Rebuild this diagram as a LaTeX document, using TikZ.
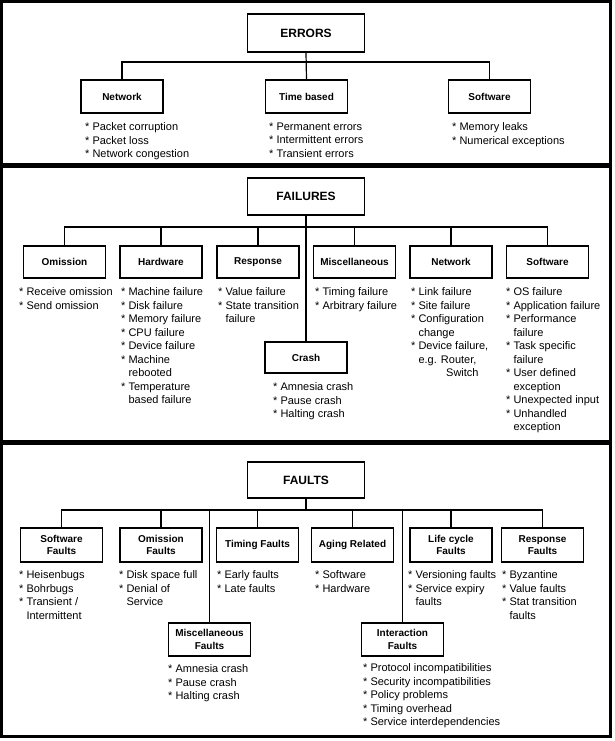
\documentclass[tikz,border=0pt]{standalone}
\usepackage{fontspec}
\setmainfont{Liberation Sans}
\newcommand\ind{\hphantom{*\ }}
\begin{document}
\begin{tikzpicture}[x=1pt,y=-1pt,
  panel/.style={draw, line width=3pt},
  box/.style={draw, line width=1.4pt, minimum width=82pt, minimum height=33pt, inner sep=1pt, align=center, font=\fontsize{10}{12.5}\selectfont\bfseries},
  topbox/.style={draw, line width=1.4pt, minimum width=117pt, minimum height=37pt, inner sep=1pt, font=\fontsize{12}{14}\selectfont\bfseries},
  lst/.style={anchor=north west, inner sep=0pt, align=left, font=\fontsize{11}{13.5}\selectfont},
  conn/.style={line width=1.2pt}]
\useasboundingbox (0,0) rectangle (614,741);
% panels
\draw[panel] (1.5,1.5) rectangle (610.5,164.5);
\draw[panel] (1.5,166.5) rectangle (610.5,441.5);
\draw[panel] (1.5,443) rectangle (610.5,736.5);

% ---------------- ERRORS ----------------
\node[topbox, minimum height=38pt] (err) at (306,33) {ERRORS};
\node[box] (enet) at (122,96.5) {Network};
\node[box] (etime) at (306.5,96.5) {Time based};
\node[box] (esoft) at (489.5,96.5) {Software};
\coordinate (bus1) at (0,62);
\draw[conn] (err.south) -- (etime.north);
\foreach \c in {enet,esoft} \draw[conn] (\c.north) |- (err.south |- bus1);
\node[lst] (lenet) at (85,122.5) {* Packet corruption\\* Packet loss\\* Network congestion};
\node[lst] (letime) at (269,122.5) {* Permanent errors\\* Intermittent errors\\* Transient errors};
\node[lst] (lesoft) at (452,122.5) {* Memory leaks\\* Numerical exceptions};

% ---------------- FAILURES ----------------
\node[topbox] (fail) at (306,196.5) {FAILURES};
\coordinate (bus2) at (0,227);
\node[box, minimum height=32pt] (fom) at (64.5,262) {Omission};
\node[box, minimum height=32pt] (fhw) at (161,262) {Hardware};
\node[box, minimum height=32pt] (fre) at (258,262) {Response};
\node[box, minimum height=32pt] (fmi) at (354.5,262) {Miscellaneous};
\node[box, minimum height=32pt] (fnw) at (451,262) {Network};
\node[box, minimum height=32pt] (fsw) at (547.5,262) {Software};
\node[box, minimum height=31pt] (fcr) at (306,357.5) {Crash};
\draw[conn] (fail.south) -- (fcr.north);
\foreach \c in {fom,fhw,fre,fmi,fnw,fsw} \draw[conn] (\c.north) |- (fail.south |- bus2);
\node[lst] (lfom) at (19,287.5) {* Receive omission\\* Send omission};
\node[lst] (lfhw) at (121,287.5) {* Machine failure\\* Disk failure\\* Memory failure\\* CPU failure\\* Device failure\\* Machine\\\ind rebooted\\* Temperature\\\ind based failure};
\node[lst] (lfre) at (218,287.5) {* Value failure\\* State transition\\\ind failure};
\node[lst] (lfmi) at (315,287.5) {* Timing failure\\* Arbitrary failure};
\node[lst] (lfnw) at (411,287.5) {* Link failure\\* Site failure\\* Configuration\\\ind change\\* Device failure,\\\ind e.g. Router,\\\hspace*{35pt}Switch};
\node[lst] (lfsw) at (506,287.5) {* OS failure\\* Application failure\\* Performance\\\ind failure\\* Task specific\\\ind failure\\* User defined\\\ind exception\\* Unexpected input\\* Unhandled\\\ind exception};
\node[lst] (lfcr) at (273,382.5) {* Amnesia crash\\* Pause crash\\* Halting crash};

% ---------------- FAULTS ----------------
\node[topbox, minimum height=36pt] (flt) at (306,480) {FAULTS};
\coordinate (bus3) at (0,510);
\node[box, minimum height=34pt] (tsw) at (61.5,545) {Software\\Faults};
\node[box, minimum height=34pt] (tom) at (161,545) {Omission\\Faults};
\node[box, minimum height=34pt] (tti) at (257.5,545) {Timing Faults};
\node[box, minimum height=34pt] (tag) at (352.5,545) {Aging Related};
\node[box, minimum height=34pt] (tlc) at (451,545) {Life cycle\\Faults};
\node[box, minimum height=34pt] (tre) at (542.5,545) {Response\\Faults};
\node[box, minimum height=33pt] (tmi) at (209.5,639.5) {Miscellaneous\\Faults};
\node[box, minimum height=33pt] (tin) at (402.5,639.5) {Interaction\\Faults};
\draw[conn] (flt.south) -- (flt.south |- bus3);
\foreach \c in {tsw,tom,tti,tag,tlc,tre} \draw[conn] (\c.north) |- (flt.south |- bus3);
\foreach \c in {tmi,tin} \draw[conn] (\c.north) -- (\c.north |- bus3);
\node[lst] (ltsw) at (19,570.5) {* Heisenbugs\\* Bohrbugs\\* Transient /\\\ind Intermittent};
\node[lst] (ltom) at (119,570.5) {* Disk space full\\* Denial of\\\ind Service};
\node[lst] (ltti) at (217,570.5) {* Early faults\\* Late faults};
\node[lst] (ltag) at (315,570.5) {* Software\\* Hardware};
\node[lst] (ltlc) at (408,570.5) {* Versioning faults\\* Service expiry\\\ind faults};
\node[lst] (ltre) at (502,570.5) {* Byzantine\\* Value faults\\* Stat transition\\\ind faults};
\node[lst] (ltmi) at (168,664.5) {* Amnesia crash\\* Pause crash\\* Halting crash};
\node[lst] (ltin) at (363,663.5) {* Protocol incompatibilities\\* Security incompatibilities\\* Policy problems\\* Timing overhead\\* Service interdependencies};
\end{tikzpicture}
\end{document}
